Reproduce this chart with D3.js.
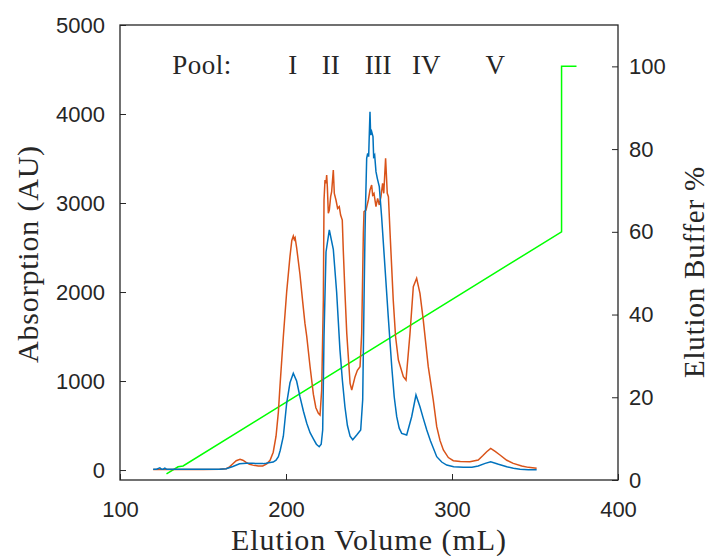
<!DOCTYPE html>
<html>
<head>
<meta charset="utf-8">
<script src="https://cdn.jsdelivr.net/npm/d3@7"></script>
<style>
  body { margin: 0; background: #fff; }
  .tick text { font-family: "Liberation Sans", Arial, sans-serif; font-size: 22px; fill: #262626; }
  .tick line { stroke: #262626; }
  .label { font-family: "Liberation Serif", "DejaVu Serif", serif; fill: #262626; }
</style>
</head>
<body>
<svg id="chart"></svg>
<script>
// UV trace (blue)
const blueVol = [120,122,124,125,126,127,128,130,140,150,160,164,168,172,176,180,184,186.3,188,190.4,192.3,194,195.4,196.5,198.4,200.4,202.4,204.4,206.4,208.4,210.5,212.5,214.5,216.5,218.3,220,221.2,222.1,222.9,224.1,226.1,228.5,230.5,232.5,234,235.5,237,238.6,240.2,242.6,245,246.2,247,247.6,248,248.6,249.2,249.8,250.2,250.6,251,251.6,252.4,252.8,253.4,254.2,255,256.2,257.6,259.6,261.6,263.7,265.2,266.7,268.2,269.7,272.7,275.7,278.3,280.7,282.7,284.8,287,290.8,293.8,296.8,301,306.8,312,315.8,320,323.3,328,333,337,341,346,351];
const blueAU = [10,10,25,10,10,22,10,8,8,8,10,15,40,70,75,75,72,72,75,85,90,110,150,220,380,750,980,1086,1000,824,660,525,420,350,290,262,290,450,1500,2450,2697,2480,2000,1350,1000,711,500,380,340,393,450,790,1900,2660,3034,3502,3558,3521,3783,4026,3764,3802,3746,3521,3540,3352,3277,3184,2846,2284,1722,1161,820,599,470,412,393,599,843,711,580,450,330,150,90,56,38,30,32,45,75,94,65,37,20,10,4,2];

// second trace (orange)
const orangeVol = [120,130,140,150,160,164,166,168,170,172.3,174,176,178,180,183.3,186,188.4,190.4,192.3,194,195.4,196.4,198.4,200.4,202.4,203.5,204.4,205,205.5,206.4,208.4,210,211.4,212.5,214.5,216.5,218,219.5,220.5,221.5,222.5,222.9,223.5,224.1,224.5,224.9,225.5,226.1,226.9,227.5,228.5,229.1,230.1,231.1,232.1,232.9,233.9,234.5,235.5,236.6,238.6,239.6,241.6,243,244.6,245.6,246.6,247,248.2,249.6,250.6,251.6,252.2,253,254.2,255.2,256.2,257.2,258.2,258.9,260,261,261.7,262.7,264.6,266,267.7,270.7,272.3,274.7,276.7,278.7,280.7,282.7,285.7,288.7,290.8,292.8,294.8,297.8,300.8,305,310.8,315.8,318.5,320.9,323.3,326,328.9,333,336.9,342,346,351];
const orangeAU = [5,5,5,5,8,15,35,70,105,120,110,85,65,55,45,45,70,110,200,380,650,950,1500,2000,2400,2580,2630,2590,2610,2500,2200,1900,1650,1500,1160,850,700,637,618,900,1910,3034,3258,3221,3315,3184,2884,2921,3071,3127,3371,3109,3034,2940,2959,2865,2809,2472,2000,1536,974,899,1049,1120,1161,1536,2659,2903,2921,3034,3146,3202,3090,3109,2959,3052,2978,3071,3221,3109,3502,3109,3071,2659,1910,1500,1236,1049,1011,1536,2060,2154,1985,1685,1161,787,487,330,225,140,105,95,94,112,160,206,243,210,169,110,75,45,30,19];

// gradient (green)
const gradVol = [128,135,138,366,366,375];
const gradPct = [1.5,3.2,3.4,60,100,100];

const xTicks = [100,200,300,400];
const leftTicks = [0,1000,2000,3000,4000,5000];
const rightTicks = [0,20,40,60,80,100];

const poolNames = ["I","II","III","IV","V"];
const poolVol = [204,227,255.5,284.5,326];

const W = 709, H = 556;
const margin = { left: 120, top: 25, right: 91, bottom: 76 };
const width = W - margin.left - margin.right;
const height = H - margin.top - margin.bottom;

const svg = d3.select("#chart").attr("width", W).attr("height", H);
const g = svg.append("g").attr("transform", `translate(${margin.left},${margin.top})`);

const x = d3.scaleLinear().domain([100, 400]).range([0, width]);
const yL = d3.scaleLinear().domain([-112, 5000]).range([height, 0]);
const yR = d3.scaleLinear().domain([0, 110]).range([height, 0]);

// axes, ticks pointing inward
const ax = g.append("g").attr("transform", `translate(0,${height})`)
    .call(d3.axisBottom(x).tickValues(xTicks).tickFormat(d3.format("d")).tickSize(-6).tickPadding(21));
const ayL = g.append("g")
    .call(d3.axisLeft(yL).tickValues(leftTicks).tickFormat(d3.format("d")).tickSize(-6).tickPadding(15));
const ayR = g.append("g").attr("transform", `translate(${width},0)`)
    .call(d3.axisRight(yR).tickValues(rightTicks).tickFormat(d3.format("d")).tickSize(-6).tickPadding(11));
[ax, ayL, ayR].forEach(a => a.select(".domain").remove());

g.append("rect")
    .attr("width", width).attr("height", height)
    .attr("fill", "none").attr("stroke", "#262626").attr("stroke-width", 1.3);

const line = (xs, ys, yScale) => d3.line()
    .x((d, i) => x(xs[i]))
    .y((d, i) => yScale(ys[i]))(xs);

g.append("path").attr("d", line(gradVol, gradPct, yR))
    .attr("fill", "none").attr("stroke", "#00ff00").attr("stroke-width", 1.5);
g.append("path").attr("d", line(orangeVol, orangeAU, yL))
    .attr("fill", "none").attr("stroke", "#d95319").attr("stroke-width", 1.5);
g.append("path").attr("d", line(blueVol, blueAU, yL))
    .attr("fill", "none").attr("stroke", "#0072bd").attr("stroke-width", 1.5);

// pool annotations
g.append("text").attr("class", "label")
    .attr("x", x(131.5)).attr("y", yL(4450))
    .attr("font-size", 27).attr("letter-spacing", 0.5).text("Pool:");
g.selectAll(".pool").data(poolNames).join("text")
    .attr("class", "label pool")
    .attr("x", (d, i) => x(poolVol[i])).attr("y", yL(4450))
    .attr("text-anchor", "middle").attr("font-size", 27)
    .text(d => d);

// axis titles
svg.append("text").attr("class", "label")
    .attr("x", margin.left + width / 2).attr("y", 550)
    .attr("text-anchor", "middle").attr("font-size", 30).attr("letter-spacing", 1)
    .text("Elution Volume (mL)");
svg.append("text").attr("class", "label")
    .attr("transform", "translate(38,254) rotate(-90)")
    .attr("text-anchor", "middle").attr("font-size", 30).attr("letter-spacing", 0.8)
    .text("Absorption (AU)");
svg.append("text").attr("class", "label")
    .attr("transform", "translate(704,272) rotate(-90)")
    .attr("text-anchor", "middle").attr("font-size", 29).attr("letter-spacing", 0.8)
    .text("Elution Buffer %");
</script>
</body>
</html>
